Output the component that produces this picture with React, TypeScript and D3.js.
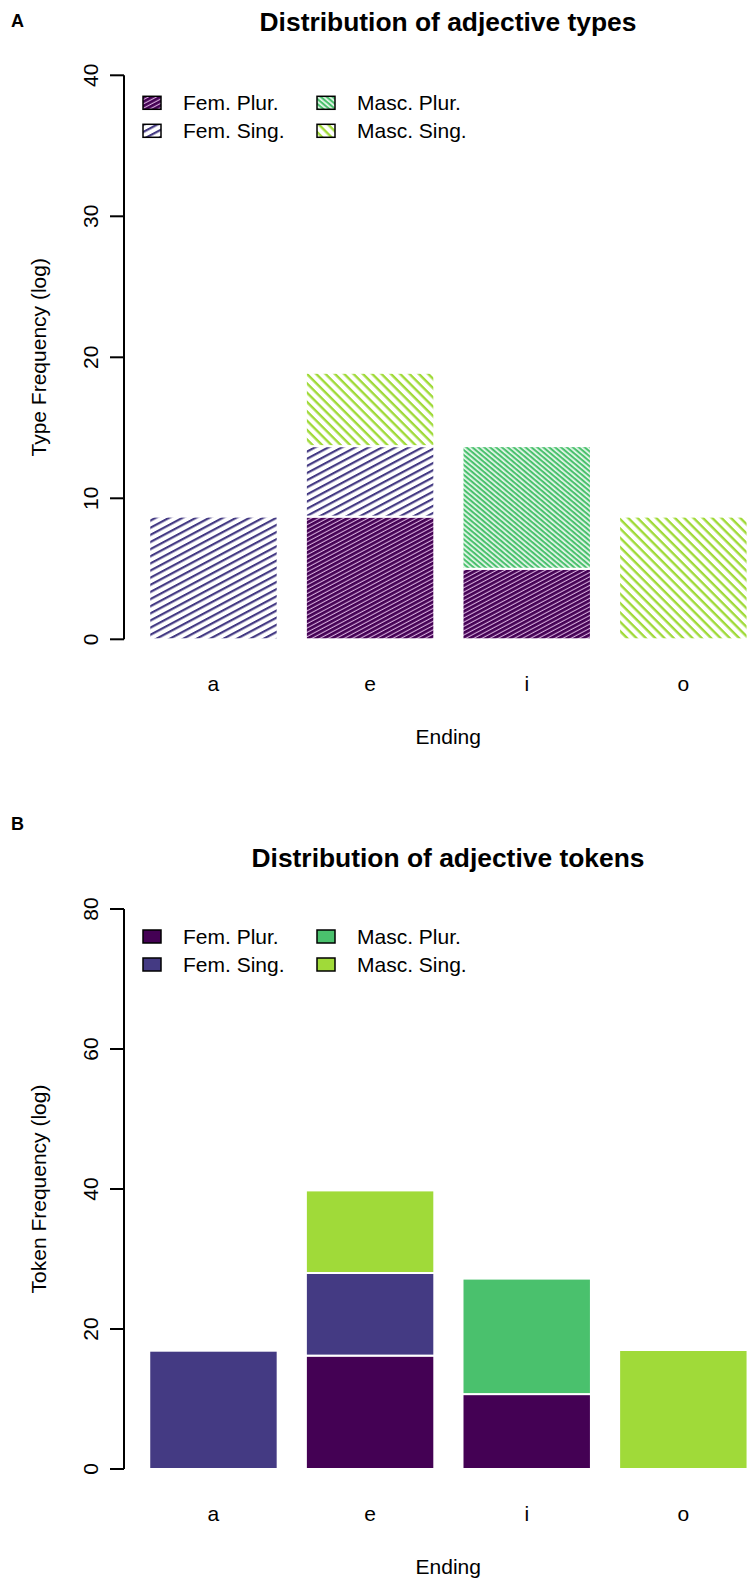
import React from 'react';
import * as d3 from 'd3';

const categories = ['a', 'e', 'i', 'o'];
const seriesKeys = ['fp', 'fs', 'mp', 'ms'];
const seriesLabels = ['Fem. Plur.', 'Fem. Sing.', 'Masc. Plur.', 'Masc. Sing.'];
const seriesColors = ['#440154', '#443a83', '#4ac16d', '#a0da39'];

// panel A: types (log)
const typeFemPlur = [0, 8.7, 5.0, 0];
const typeFemSing = [8.7, 5.0, 0, 0];
const typeMascPlur = [0, 0, 8.7, 0];
const typeMascSing = [0, 5.2, 0, 8.7];
const typeTicks = [0, 10, 20, 30, 40];

// panel B: tokens (log)
const tokenFemPlur = [0, 16.2, 10.7, 0];
const tokenFemSing = [16.9, 11.8, 0, 0];
const tokenMascPlur = [0, 0, 16.5, 0];
const tokenMascSing = [0, 11.8, 0, 17.0];
const tokenTicks = [0, 20, 40, 60, 80];

const font = '"Liberation Sans", Arial, sans-serif';

const rows = (fp, fs, mp, ms) =>
  categories.map((c, i) => ({ cat: c, fp: fp[i], fs: fs[i], mp: mp[i], ms: ms[i] }));

// hatch settings per series: spacing, line width, angle, background
const hatch = [
  { sp: 3.8, lw: 2.7, ang: -28, bg: '#d6acdc' },
  { sp: 6.3, lw: 2.2, ang: -28, bg: 'none' },
  { sp: 3.8, lw: 2.1, ang: 40, bg: '#eaf7ee' },
  { sp: 6.6, lw: 2.4, ang: 45, bg: 'none' },
];

const x = d3.scaleBand().domain(categories).range([135.15, 761.65]).paddingInner(0.18).paddingOuter(0.09);
const axisX = 124;

const Panel = ({ letter, title, ylab, data, ticks, yTop, yBottom, hatched, letterY, titleY }) => {
  const y = d3.scaleLinear().domain([ticks[0], ticks[ticks.length - 1]]).range([yBottom, yTop]);
  const stacked = d3.stack().keys(seriesKeys)(data);
  const fill = (k) => (hatched ? `url(#hatch-${k})` : seriesColors[k]);
  const legTop = yTop + 21;
  const legCols = [143, 317];
  return (
    <g>
      <text x={11} y={letterY} fontFamily={font} fontWeight="bold" fontSize={18}>{letter}</text>
      <text x={448} y={titleY} textAnchor="middle" fontFamily={font} fontWeight="bold" fontSize={26.4}>{title}</text>

      {stacked.map((s, k) => (
        <g key={k}>
          {s.filter((d) => d[1] - d[0] > 0).map((d, i) => (
            <rect key={i} x={x(d.data.cat)} width={x.bandwidth()}
              y={y(d[1])} height={y(d[0]) - y(d[1])}
              fill={fill(k)} stroke="#fff" strokeWidth={2} />
          ))}
        </g>
      ))}

      <line x1={axisX} x2={axisX} y1={y(ticks[0])} y2={y(ticks[ticks.length - 1])} stroke="#000" strokeWidth={2} />
      {ticks.map((t) => (
        <g key={t}>
          <line x1={axisX - 14} x2={axisX} y1={y(t)} y2={y(t)} stroke="#000" strokeWidth={2} />
          <text transform={`translate(${axisX - 26},${y(t)}) rotate(-90)`} textAnchor="middle"
            fontFamily={font} fontSize={21}>{t}</text>
        </g>
      ))}
      <text transform={`translate(46,${(y(ticks[0]) + y(ticks[ticks.length - 1])) / 2}) rotate(-90)`}
        textAnchor="middle" fontFamily={font} fontSize={21}>{ylab}</text>

      {categories.map((c) => (
        <text key={c} x={x(c) + x.bandwidth() / 2} y={yBottom + 52} textAnchor="middle"
          fontFamily={font} fontSize={21}>{c}</text>
      ))}
      <text x={x('e') + x.bandwidth() + 14} y={yBottom + 105} textAnchor="middle" fontFamily={font} fontSize={21}>Ending</text>

      {seriesKeys.map((key, k) => {
        const col = Math.floor(k / 2);
        const row = k % 2;
        const by = legTop + row * 28;
        return (
          <g key={key}>
            <rect x={legCols[col]} y={by} width={18} height={13} fill={fill(k)} stroke="#000" strokeWidth={1.5} />
            <text x={legCols[col] + 40} y={by + 14} fontFamily={font} fontSize={21}>{seriesLabels[k]}</text>
          </g>
        );
      })}
    </g>
  );
};

export default function App() {
  return (
    <svg width={749} height={1581} style={{ position: 'absolute', left: 0, top: 0, background: '#fff' }}>
      <defs>
        {hatch.map((h, k) => (
          <pattern key={k} id={`hatch-${k}`} patternUnits="userSpaceOnUse" width={h.sp} height={h.sp}
            patternTransform={`rotate(${h.ang})`}>
            {h.bg !== 'none' && <rect width={h.sp} height={h.sp} fill={h.bg} />}
            <rect y={0} width={h.sp} height={h.lw} fill={seriesColors[k]} />
          </pattern>
        ))}
      </defs>
      <rect width={749} height={1581} fill="#fff" />
      <Panel letter="A" title="Distribution of adjective types" ylab="Type Frequency (log)"
        data={rows(typeFemPlur, typeFemSing, typeMascPlur, typeMascSing)} ticks={typeTicks}
        yTop={75.3} yBottom={639.3} hatched letterY={27} titleY={31} />
      <Panel letter="B" title="Distribution of adjective tokens" ylab="Token Frequency (log)"
        data={rows(tokenFemPlur, tokenFemSing, tokenMascPlur, tokenMascSing)} ticks={tokenTicks}
        yTop={909} yBottom={1469} hatched={false} letterY={830} titleY={867} />
    </svg>
  );
}
